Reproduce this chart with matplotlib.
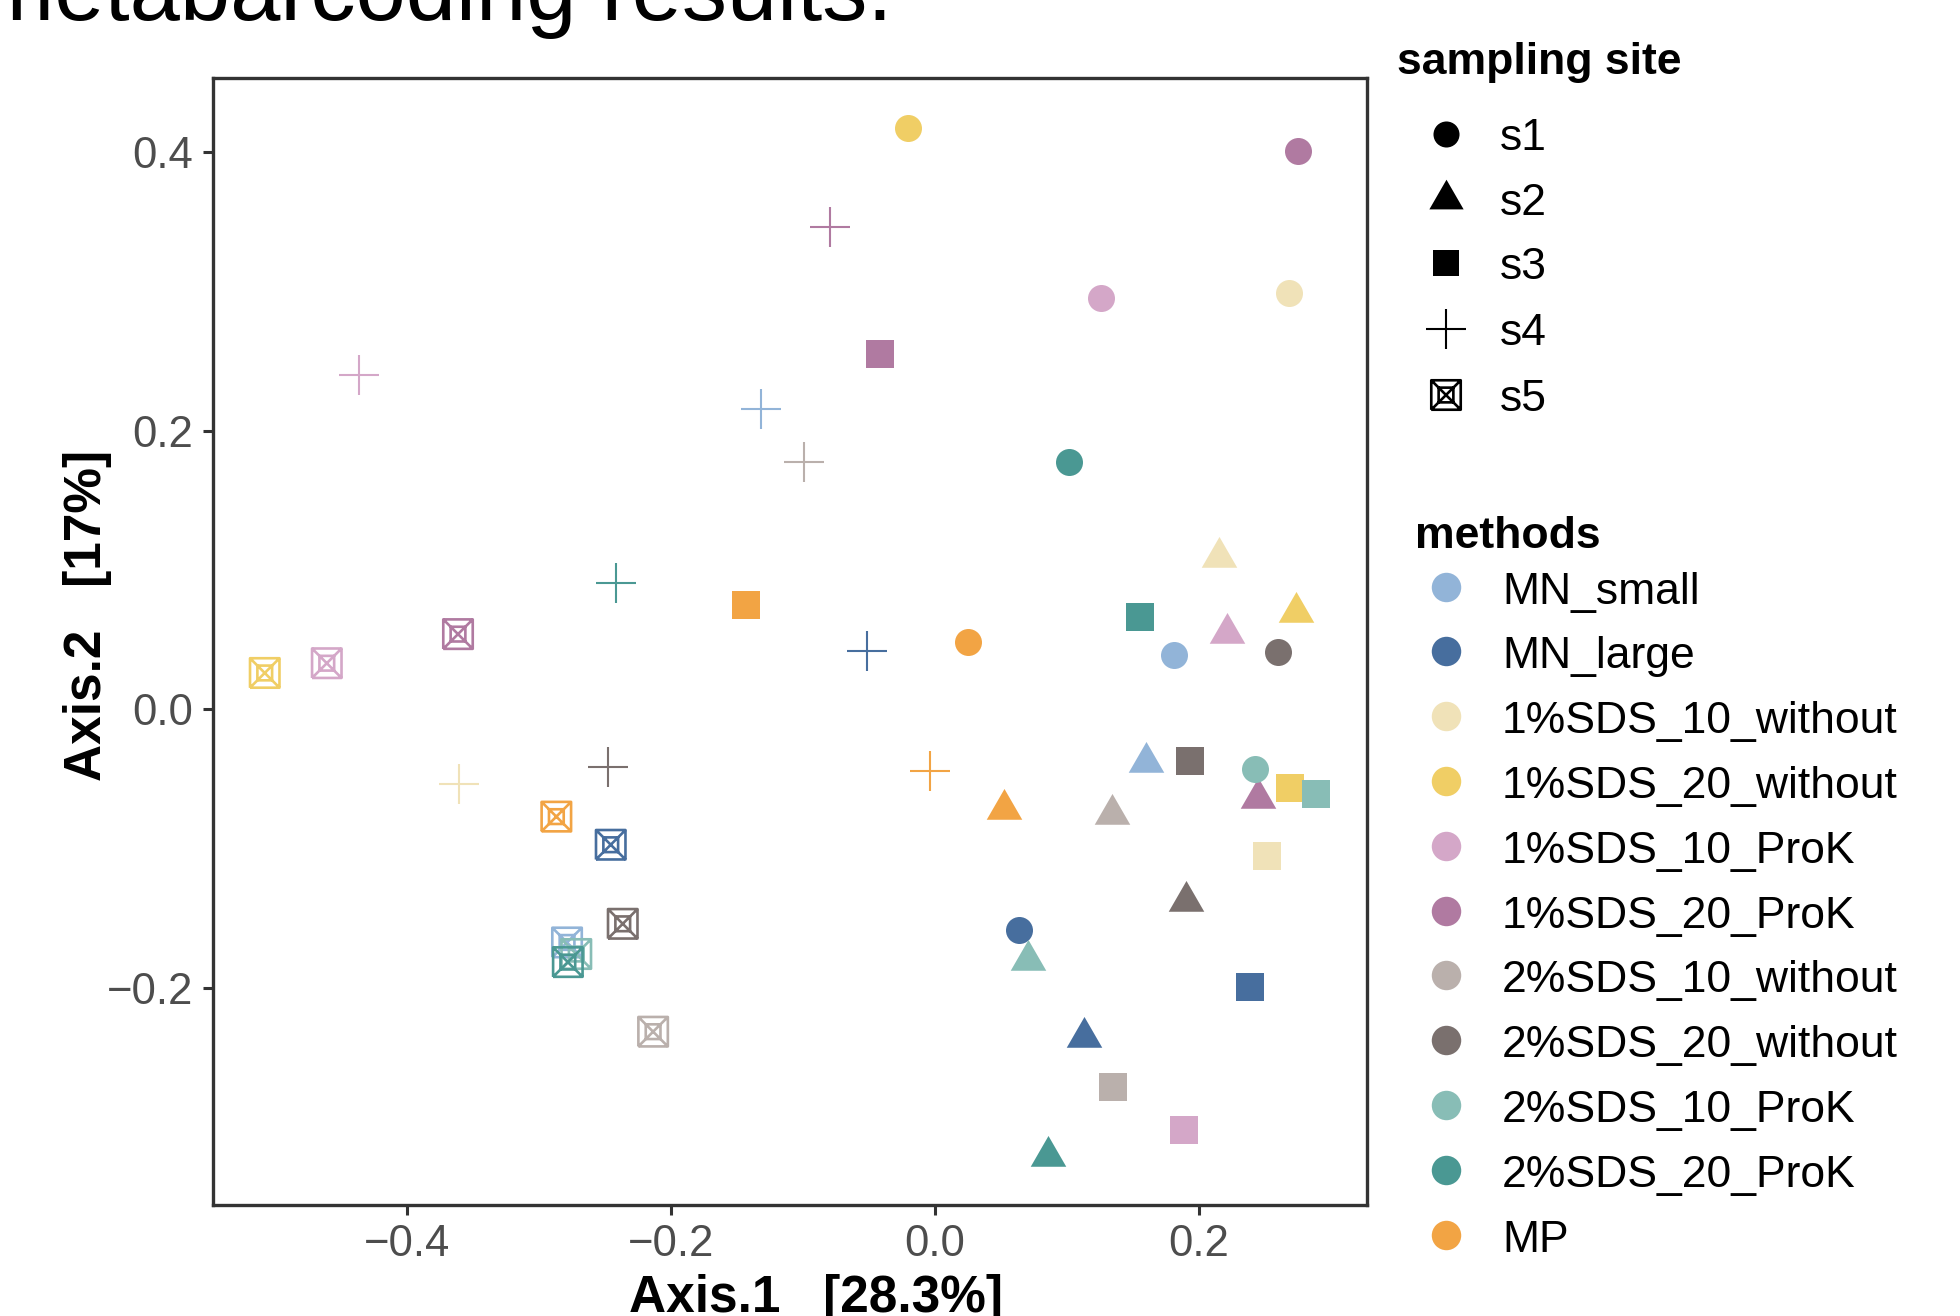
import matplotlib
matplotlib.use("Agg")
import matplotlib.pyplot as plt
from matplotlib.path import Path
import pandas as pd

plt.rcParams['font.family'] = ['Liberation Sans', 'DejaVu Sans']

# ---------------- data ----------------
methods = ["MN_small", "MN_large", "1%SDS_10_without", "1%SDS_20_without",
           "1%SDS_10_ProK", "1%SDS_20_ProK", "2%SDS_10_without",
           "2%SDS_20_without", "2%SDS_10_ProK", "2%SDS_20_ProK", "MP"]
method_colors = ["#92B4D8", "#476E9E", "#F0E2B8", "#F0CE65", "#D4A7C8",
                 "#B07AA1", "#BAB0AC", "#7A706E", "#88BDB6", "#4A9893",
                 "#F2A444"]
sites = ["s1", "s2", "s3", "s4", "s5"]

s1_methods = ["MN_small", "MN_large", "1%SDS_10_without", "1%SDS_20_without",
              "1%SDS_10_ProK", "1%SDS_20_ProK", "2%SDS_20_without",
              "2%SDS_10_ProK", "2%SDS_20_ProK", "MP"]
s1_x = [0.1811, 0.0634, 0.2684, -0.0201, 0.1261, 0.2751, 0.2603, 0.2426, 0.1014, 0.0248]
s1_y = [0.0391, -0.1590, 0.2992, 0.4175, 0.2952, 0.4009, 0.0411, -0.0432, 0.1777, 0.0486]

s2_methods = ["MN_small", "MN_large", "1%SDS_10_without", "1%SDS_20_without",
              "1%SDS_10_ProK", "1%SDS_20_ProK", "2%SDS_10_without",
              "2%SDS_20_without", "2%SDS_10_ProK", "2%SDS_20_ProK", "MP"]
s2_x = [0.1597, 0.1127, 0.2151, 0.2739, 0.2217, 0.2452, 0.1345, 0.1902, 0.0704, 0.0855, 0.0527]
s2_y = [-0.0381, -0.2355, 0.1094, 0.0700, 0.0544, -0.0641, -0.0753, -0.1375, -0.1805, -0.3212, -0.0717]

s3_methods = ["MN_large", "1%SDS_10_without", "1%SDS_20_without",
              "1%SDS_10_ProK", "1%SDS_20_ProK", "2%SDS_10_without",
              "2%SDS_20_without", "2%SDS_10_ProK", "2%SDS_20_ProK", "MP"]
s3_x = [0.2391, 0.2519, 0.2687, 0.1884, -0.0412, 0.1353, 0.1930, 0.2884, 0.1551, -0.1427]
s3_y = [-0.1994, -0.1058, -0.0564, -0.3020, 0.2553, -0.2715, -0.0375, -0.0612, 0.0665, 0.0745]

s4_methods = ["MN_small", "MN_large", "1%SDS_10_without", "1%SDS_10_ProK",
              "1%SDS_20_ProK", "2%SDS_10_without", "2%SDS_20_without",
              "2%SDS_20_ProK", "MP"]
s4_x = [-0.1319, -0.0511, -0.3605, -0.4363, -0.0792, -0.0994, -0.2472, -0.2418, -0.0033]
s4_y = [0.2157, 0.0421, -0.0535, 0.2404, 0.3462, 0.1777, -0.0413, 0.0909, -0.0445]

s5_methods = ["MN_small", "MN_large", "1%SDS_20_without", "1%SDS_10_ProK",
              "1%SDS_20_ProK", "2%SDS_10_without", "2%SDS_20_without",
              "2%SDS_10_ProK", "2%SDS_20_ProK", "MP"]
s5_x = [-0.2786, -0.2455, -0.5076, -0.4606, -0.3612, -0.2134, -0.2364, -0.2716, -0.2780, -0.2867]
s5_y = [-0.1676, -0.0974, 0.0260, 0.0330, 0.0539, -0.2317, -0.1542, -0.1759, -0.1817, -0.0772]

x_ticks = [-0.4, -0.2, 0.0, 0.2]
y_ticks = [-0.2, 0.0, 0.2, 0.4]
x_label = "Axis.1   [28.3%]"
y_label = "Axis.2   [17%]"
title_text = "metabarcoding results."

# ---------------- markers ----------------
tri_path = Path([(0, 1), (-0.866, -0.5), (0.866, -0.5), (0, 1)],
                [Path.MOVETO, Path.LINETO, Path.LINETO, Path.CLOSEPOLY])
M, L = Path.MOVETO, Path.LINETO
box_verts = [(-1, -1), (1, -1), (1, 1), (-1, 1), (-1, -1),
             (-0.5, -0.5), (0.5, -0.5), (0.5, 0.5), (-0.5, 0.5), (-0.5, -0.5),
             (-1, -1), (1, 1), (-1, 1), (1, -1)]
box_codes = [M, L, L, L, L, M, L, L, L, L, M, L, M, L]
box_path = Path(box_verts, box_codes)

site_style = {
    "s1": dict(marker="o", s=378, kind="filled", lw=0),
    "s2": dict(marker=tri_path, s=874, kind="filled", lw=0),
    "s3": dict(marker="s", s=378, kind="filled", lw=0),
    "s4": dict(marker="+", s=829, kind="line", lw=1.5),
    "s5": dict(marker=box_path, s=450, kind="open", lw=1.9),
}


def draw_point(axis, x, y, site, color, z=3, scale=1.0):
    st = site_style[site]
    if st["kind"] == "filled":
        axis.scatter([x], [y], marker=st["marker"], s=st["s"] * scale, c=[color],
                     linewidths=0, zorder=z)
    elif st["kind"] == "line":
        axis.scatter([x], [y], marker=st["marker"], s=st["s"] * scale, c=[color],
                     linewidths=st["lw"], zorder=z)
    else:
        axis.scatter([x], [y], marker=st["marker"], s=st["s"] * scale,
                     facecolors="none", edgecolors=[color],
                     linewidths=st["lw"], zorder=z)


# ---------------- build table ----------------
rows = []
for site, ms, xs, ys in [("s1", s1_methods, s1_x, s1_y), ("s2", s2_methods, s2_x, s2_y),
                         ("s3", s3_methods, s3_x, s3_y), ("s4", s4_methods, s4_x, s4_y),
                         ("s5", s5_methods, s5_x, s5_y)]:
    for m, x, y in zip(ms, xs, ys):
        rows.append(dict(site=site, method=m, x=x, y=y))
df = pd.DataFrame(rows)
df["mi"] = df["method"].map({m: i for i, m in enumerate(methods)})
df["si"] = df["site"].map({s: i for i, s in enumerate(sites)})
df = df.sort_values(["mi", "si"]).reset_index(drop=True)
cmap = dict(zip(methods, method_colors))

# ---------------- figure ----------------
W, H = 1960, 1316
fig = plt.figure(figsize=(W / 100, H / 100), dpi=100)
ax_l, ax_r, ax_t, ax_b = 213, 1367, 78, 1205
ax = fig.add_axes([ax_l / W, 1 - ax_b / H, (ax_r - ax_l) / W, (ax_b - ax_t) / H])

for k, r in df.iterrows():
    draw_point(ax, r.x, r.y, r.site, cmap[r.method], z=3 + k * 0.01)

ax.set_xlim(-0.5468, 0.3274)
ax.set_ylim(-0.3562, 0.4534)
ax.set_xticks(x_ticks)
ax.set_yticks(y_ticks)
ax.set_xticklabels([f"{v:.1f}".replace("-", "\u2212") for v in x_ticks])
ax.set_yticklabels([f"{v:.1f}".replace("-", "\u2212") for v in y_ticks])
ax.tick_params(axis="both", length=7.2, width=2.2, color="#333333",
               labelsize=31.5, labelcolor="#4D4D4D")
ax.tick_params(axis="x", pad=6.5)
ax.tick_params(axis="y", pad=7)
for sp in ax.spines.values():
    sp.set_linewidth(2.4)
    sp.set_color("#333333")

# axis titles
fig.text(815.5 / W, 1 - 1311.7 / H, x_label, ha="center", va="baseline",
         fontsize=37, fontweight="bold")
fig.text(101 / W, 1 - 615.7 / H, y_label, ha="center", va="baseline",
         rotation=90, rotation_mode="anchor", fontsize=37, fontweight="bold")

# title (partially off canvas, as in the reference)
fig.text(892 / W, 1 - 20 / H, title_text, ha="right", va="baseline", fontsize=65)

# ---------------- legends ----------------
lax = fig.add_axes([0, 0, 1, 1])
lax.set_xlim(0, W)
lax.set_ylim(H, 0)
lax.axis("off")

lax.text(1396.6, 74, "sampling site", ha="left", va="baseline",
         fontsize=32, fontweight="bold")
site_leg_y = [134, 198.7, 263.3, 329.3, 395]
for s, yy in zip(sites, site_leg_y):
    sc = 0.93 if site_style[s]["kind"] == "filled" else 1.0
    draw_point(lax, 1446, yy, s, "black", scale=sc)
    lax.text(1500, yy + 16, s, ha="left", va="baseline", fontsize=32)

lax.text(1415, 548, "methods", ha="left", va="baseline", fontsize=32, fontweight="bold")
for i, (m, c) in enumerate(zip(methods, method_colors)):
    yy = 586.6 + i * 64.8
    lax.scatter([1446], [yy], marker="o", s=450, c=[c], linewidths=0)
    lax.text(1502, yy + 17, m, ha="left", va="baseline", fontsize=32)

fig.savefig("out.png", dpi=100)
